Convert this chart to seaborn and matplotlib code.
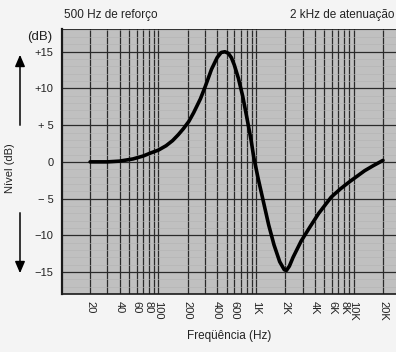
import numpy as np
import matplotlib
matplotlib.use("Agg")
import matplotlib.pyplot as plt
import matplotlib.ticker as mticker
import seaborn as sns

# response curve (Hz, dB)
freq_hz = [20, 30, 40, 55, 70, 83, 100, 120, 140, 160, 180, 205, 230, 270, 305, 350,
           400, 440, 480, 520, 560, 600, 660, 730, 810, 890, 950, 1050, 1200, 1350,
           1530, 1750, 1950, 2050, 2200, 2400, 2900, 3600, 4400, 5900, 7300, 8900,
           11000, 13000, 16000, 20000]
level_db = [0.0, 0.0, 0.1, 0.4, 0.8, 1.2, 1.6, 2.2, 2.9, 3.7, 4.5, 5.5, 6.7, 8.6, 10.4, 12.6,
            14.2, 14.9, 15.0, 14.8, 14.2, 13.2, 11.4, 9.0, 5.9, 3.0, 0.6, -2.2, -5.6, -8.6,
            -11.3, -13.6, -14.7, -14.8, -14.2, -13.0, -10.8, -8.8, -7.0, -4.8, -3.7, -2.8,
            -1.9, -1.2, -0.5, 0.2]

# labelled ticks
xtick_vals = [20, 40, 60, 80, 100, 200, 400, 600, 1000, 2000, 4000, 6000, 8000, 10000, 20000]
xtick_labels = ["20", "40", "60", "80", "100", "200", "400", "600", "1K", "2K",
                "4K", "6K", "8K", "10K", "20K"]
ytick_vals = [15, 10, 5, 0, -5, -10, -15]
ytick_labels = ["+15", "+10", "+ 5", "0", "\u2212 5", "\u221210", "\u221215"]

sns.set_style("white")
plt.rcParams["font.family"] = ["Liberation Sans", "DejaVu Sans"]

fig = plt.figure(figsize=(3.96, 3.52), dpi=100)
ax = fig.add_axes([62 / 396, 1 - 294 / 352, 1 - 62 / 396, 265 / 352])
ax.set_facecolor("#c0c0c0")

sns.lineplot(x=freq_hz, y=level_db, ax=ax, color="black", linewidth=2.6,
             solid_capstyle="round", zorder=5)

ax.set_xscale("log")
ax.set_xlim(10.3, 27200)
ax.set_ylim(-18.0, 18.1)

# grid lines: every 1-9 step per decade from 20 Hz to 20 kHz
minor = [m * 10 ** d for d in range(1, 5) for m in range(1, 10)]
minor = [f for f in minor if 20 <= f <= 20000 and f not in xtick_vals]
ax.xaxis.set_major_locator(mticker.FixedLocator(xtick_vals))
ax.xaxis.set_major_formatter(mticker.FixedFormatter(xtick_labels))
ax.xaxis.set_minor_locator(mticker.FixedLocator(minor))
ax.xaxis.set_minor_formatter(mticker.NullFormatter())
ax.yaxis.set_major_locator(mticker.FixedLocator(ytick_vals))
ax.yaxis.set_major_formatter(mticker.FixedFormatter(ytick_labels))
ax.yaxis.set_minor_locator(mticker.MultipleLocator(1))

ax.grid(which="major", axis="both", color="#2a2a2a", linewidth=0.9)
ax.grid(which="minor", axis="x", color="#2a2a2a", linewidth=0.9)
ax.grid(which="minor", axis="y", color="#b3b3b3", linewidth=0.4)

ax.tick_params(axis="x", which="both", length=0, labelsize=8, rotation=-90, pad=5,
               colors="#222222")
ax.tick_params(axis="y", which="both", length=0, labelsize=8, pad=6, colors="#222222")
for lbl in ax.get_xticklabels():
    lbl.set_verticalalignment("top")

for side in ["left", "bottom", "top"]:
    ax.spines[side].set_color("#1a1a1a")
ax.spines["left"].set_linewidth(1.6)
ax.spines["bottom"].set_linewidth(1.2)
ax.spines["top"].set_linewidth(0.6)
ax.spines["right"].set_visible(False)

ax.set_xlabel("Freqüência (Hz)", fontsize=8.5, color="#222222", labelpad=7)
ax.set_ylabel("")

fig.text(64 / 396, 1 - 15 / 352, "500 Hz de reforço", fontsize=8.5, va="center", color="#222222")
fig.text(394 / 396, 1 - 15 / 352, "2 kHz de atenuação", fontsize=8.5, va="center", ha="right",
         color="#222222")
fig.text(40 / 396, 1 - 37 / 352, "(dB)", fontsize=9.5, va="center", ha="center", color="#222222")
fig.text(10 / 396, 1 - 168 / 352, "Nível (dB)", fontsize=8, va="center", ha="center",
         rotation=90, color="#222222")
fig.add_artist(matplotlib.patches.FancyArrowPatch(
    (20 / 396, 1 - 128 / 352), (20 / 396, 1 - 52 / 352), transform=fig.transFigure,
    arrowstyle="-|>,head_length=7,head_width=3", color="black", linewidth=1.1))
fig.add_artist(matplotlib.patches.FancyArrowPatch(
    (20 / 396, 1 - 210 / 352), (20 / 396, 1 - 276 / 352), transform=fig.transFigure,
    arrowstyle="-|>,head_length=7,head_width=3", color="black", linewidth=1.1))

fig.savefig("out.png", dpi=100, facecolor="#f4f4f4")
